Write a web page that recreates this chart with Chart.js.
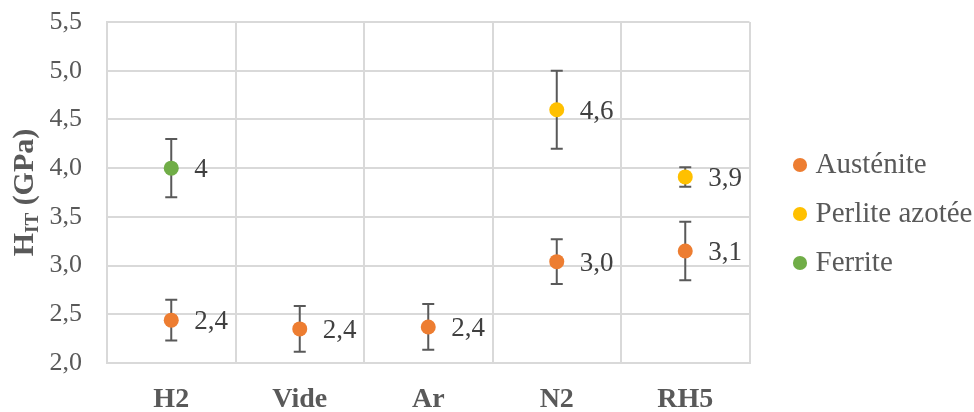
<!DOCTYPE html>
<html>
<head>
<meta charset="utf-8">
<style>
  html, body { margin: 0; padding: 0; background: #ffffff; }
  #wrap { width: 974px; height: 412px; }
</style>
<script src="https://cdn.jsdelivr.net/npm/chart.js@4.4.1/dist/chart.umd.min.js"></script>
</head>
<body>
<div id="wrap"><canvas id="c" width="974" height="412"></canvas></div>
<script>
// ---- data ----
const categories = ['H2', 'Vide', 'Ar', 'N2', 'RH5'];
const seriesNames = ['Austénite', 'Perlite azotée', 'Ferrite'];

const austeniteValues = [2.44, 2.35, 2.37, 3.04, 3.15];
const austeniteErrors = [0.21, 0.235, 0.235, 0.23, 0.30];
const austeniteLabels = ['2,4', '2,4', '2,4', '3,0', '3,1'];

const perliteValues = [null, null, null, 4.60, 3.91];
const perliteErrors = [null, null, null, 0.40, 0.10];
const perliteLabels = [null, null, null, '4,6', '3,9'];

const ferriteValues = [4.00, null, null, null, null];
const ferriteErrors = [0.30, null, null, null, null];
const ferriteLabels = ['4', null, null, null, null];

const yTicks = ['2,0', '2,5', '3,0', '3,5', '4,0', '4,5', '5,0', '5,5'];
const yMin = 2.0, yMax = 5.5, yStep = 0.5;

const colors = ['#ED7D31', '#FFC000', '#70AD47'];
const textColor = '#595959';
const gridColor = '#d9d9d9';
const serif = '"Liberation Serif", "Times New Roman", serif';

function makeSet(i, values, errors, labels) {
  return {
    label: seriesNames[i],
    data: values,
    errors: errors,
    valueLabels: labels,
    showLine: false,
    pointRadius: 7.5,
    pointHoverRadius: 7.5,
    pointBackgroundColor: colors[i],
    pointBorderWidth: 0,
    backgroundColor: colors[i],
    borderColor: colors[i],
    borderWidth: 0
  };
}

const errorBarPlugin = {
  id: 'errorBars',
  beforeDatasetsDraw(chart) {
    const ctx = chart.ctx;
    const y = chart.scales.y;
    ctx.save();
    ctx.strokeStyle = '#595959';
    ctx.lineWidth = 2;
    chart.data.datasets.forEach((ds, di) => {
      const meta = chart.getDatasetMeta(di);
      meta.data.forEach((pt, i) => {
        const v = ds.data[i], e = ds.errors[i];
        if (v == null || e == null) return;
        const x = pt.x;
        const yt = y.getPixelForValue(v + e);
        const yb = y.getPixelForValue(v - e);
        ctx.beginPath();
        ctx.moveTo(x, yt); ctx.lineTo(x, yb);
        ctx.moveTo(x - 6, yt); ctx.lineTo(x + 6, yt);
        ctx.moveTo(x - 6, yb); ctx.lineTo(x + 6, yb);
        ctx.stroke();
      });
    });
    ctx.restore();
  }
};

const valueLabelPlugin = {
  id: 'valueLabels',
  afterDatasetsDraw(chart) {
    const ctx = chart.ctx;
    ctx.save();
    ctx.font = '27px ' + serif;
    ctx.fillStyle = '#404040';
    ctx.textAlign = 'left';
    ctx.textBaseline = 'middle';
    chart.data.datasets.forEach((ds, di) => {
      const meta = chart.getDatasetMeta(di);
      meta.data.forEach((pt, i) => {
        const lab = ds.valueLabels[i];
        if (lab == null || ds.data[i] == null) return;
        ctx.fillText(lab, pt.x + 23, pt.y + 2);
      });
    });
    ctx.restore();
  }
};

const yTitlePlugin = {
  id: 'yTitle',
  afterDraw(chart) {
    const ctx = chart.ctx;
    const area = chart.chartArea;
    const cy = (area.top + area.bottom) / 2;
    const big = 'bold 30px ' + serif;
    const small = 'bold 19px ' + serif;
    ctx.save();
    ctx.translate(25, cy);
    ctx.rotate(-Math.PI / 2);
    ctx.fillStyle = textColor;
    ctx.textBaseline = 'middle';
    ctx.textAlign = 'left';
    ctx.font = big; const wH = ctx.measureText('H').width;
    ctx.font = small; const wIT = ctx.measureText('IT').width;
    ctx.font = big; const wR = ctx.measureText(' (GPa)').width;
    let x = -(wH + wIT + wR) / 2;
    ctx.font = big; ctx.fillText('H', x, 0);
    ctx.font = small; ctx.fillText('IT', x + wH, 8);
    ctx.font = big; ctx.fillText(' (GPa)', x + wH + wIT, 0);
    ctx.restore();
  }
};

const legendShiftPlugin = {
  id: 'legendShift',
  afterLayout(chart) {
    const lg = chart.legend;
    if (!lg) return;
    const pad = lg.options.labels.padding;
    const w = lg.width;
    lg.left = 800 - 1 - pad;
    lg.right = lg.left + w;
    const colH = lg.columnSizes && lg.columnSizes[0] ? lg.columnSizes[0].height : 147;
    const cur = (lg.top + pad + lg.bottom - colH) / 2;
    const want = 165 - 14.5;
    const d = want - cur;
    lg.top += d; lg.bottom += d;
  }
};

new Chart(document.getElementById('c'), {
  type: 'line',
  data: {
    labels: categories,
    datasets: [
      makeSet(0, austeniteValues, austeniteErrors, austeniteLabels),
      makeSet(1, perliteValues, perliteErrors, perliteLabels),
      makeSet(2, ferriteValues, ferriteErrors, ferriteLabels)
    ]
  },
  options: {
    responsive: false,
    animation: false,
    layout: { padding: { top: 22, right: 21, bottom: 0, left: 0 } },
    plugins: {
      tooltip: { enabled: false },
      legend: {
        position: 'right',
        align: 'center',
        labels: {
          usePointStyle: true,
          pointStyle: 'circle',
          boxWidth: 2,
          boxHeight: 10,
          padding: 20,
          color: textColor,
          font: { family: serif, size: 29 }
        }
      }
    },
    scales: {
      x: {
        offset: true,
        grid: { display: true, offset: true, color: gridColor, lineWidth: 2, drawTicks: false },
        border: { display: true, color: gridColor, width: 2 },
        ticks: { color: textColor, font: { family: serif, size: 28, weight: 'bold' }, padding: 20, maxRotation: 0 },
        afterFit(scale) { scale.height = 49; scale.paddingLeft = 0; scale.paddingRight = 0; }
      },
      y: {
        min: yMin,
        max: yMax,
        grid: { color: gridColor, lineWidth: 2, drawTicks: false },
        border: { display: true, color: gridColor, width: 2 },
        ticks: {
          stepSize: yStep,
          padding: 25,
          color: textColor,
          font: { family: serif, size: 26 },
          callback: function (value, index) { return yTicks[index]; }
        },
        afterFit(scale) { scale.width = 107; scale.paddingTop = 0; scale.paddingBottom = 0; }
      }
    }
  },
  plugins: [errorBarPlugin, valueLabelPlugin, yTitlePlugin, legendShiftPlugin]
});
</script>
</body>
</html>
